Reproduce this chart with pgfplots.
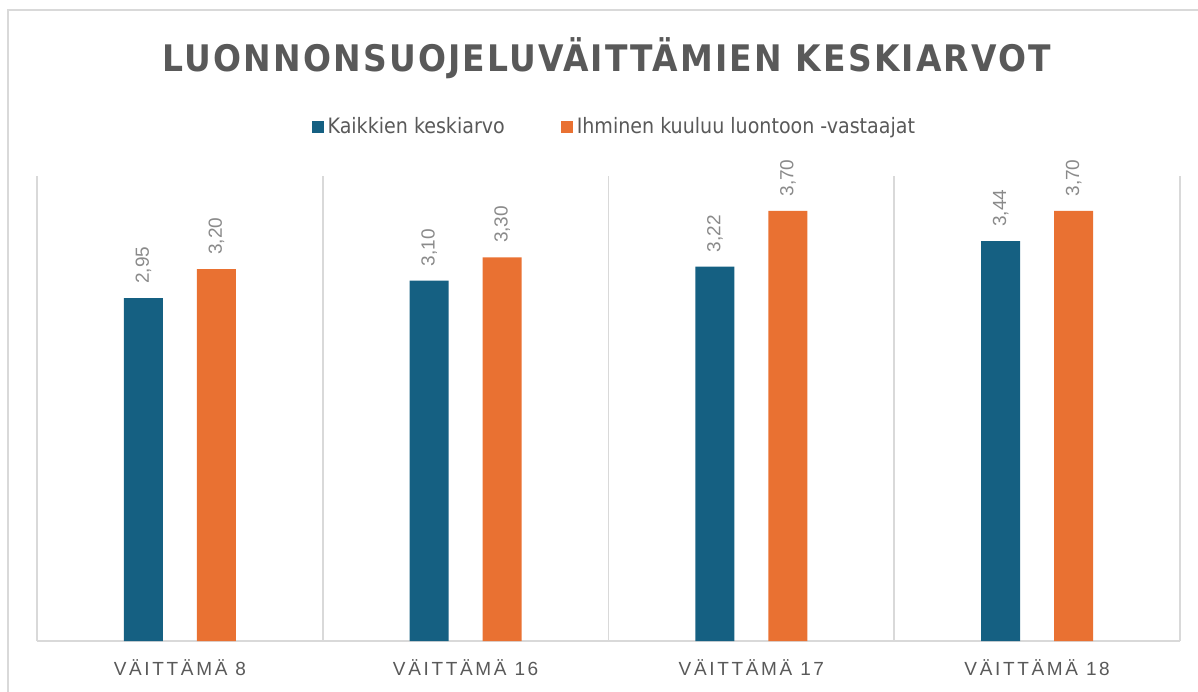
\documentclass[border=0pt]{standalone}
\usepackage{fontspec}
\setmainfont{Liberation Sans}
\newfontfamily\titlefont[LetterSpace=6]{DejaVu Sans Condensed}
\newfontfamily\condfont{DejaVu Sans Condensed}
\newfontfamily\tickfont[LetterSpace=14]{Liberation Sans}
\usepackage{pgfplots}
\pgfplotsset{compat=1.18}
\definecolor{blueA}{HTML}{156082}
\definecolor{orangeA}{HTML}{E97132}
\definecolor{gridgray}{HTML}{D9D9D9}
\definecolor{textgray}{HTML}{595959}
\definecolor{labelgray}{HTML}{8A8A8A}
\begin{document}
\begin{tikzpicture}
\useasboundingbox (0,0) rectangle (599pt,-345.5pt);
\draw[gridgray, line width=1.2pt] (4pt,-346pt) -- (4pt,-5pt) -- (600pt,-5pt);
\node[text=textgray, font=\titlefont\bfseries\fontsize{18.3}{22}\selectfont] at (303.5pt,-29pt) {LUONNONSUOJELUVÄITTÄMIEN KESKIARVOT};
\begin{axis}[
  at={(18.5pt,-320.5pt)}, anchor=south west,
  scale only axis, width=571.5pt, height=232.5pt,
  xmin=-0.5, xmax=3.5, ymin=0, ymax=4,
  ybar=17pt, bar width=19.5pt,
  xtick={0,1,2,3},
  xticklabels={VÄITTÄMÄ 8, VÄITTÄMÄ 16, VÄITTÄMÄ 17, VÄITTÄMÄ 18},
  xticklabel style={font=\tickfont\fontsize{9.5}{11}\selectfont, text=textgray, yshift=-6pt},
  minor xtick={-0.5,0.5,1.5,2.5,3.5},
  xminorgrids,
  minor grid style={gridgray, line width=0.9pt},
  major tick length=0pt, minor tick length=0pt,
  ytick=\empty,
  axis x line*=bottom, axis y line=none,
  axis line style={gridgray, line width=0.9pt, -},
  nodes near coords={\pgfmathprintnumber[fixed,fixed zerofill,precision=2,use comma,assume math mode=true]{\pgfplotspointmeta}},
  point meta=y,
  nodes near coords style={rotate=90, anchor=west, inner xsep=7pt, inner ysep=0pt, text=labelgray, font=\fontsize{9.5}{11}\selectfont},
  legend style={at={(0.506,1.105)}, anchor=center, legend columns=2, draw=none, fill=none,
    font=\condfont\fontsize{10.6}{12}\selectfont, text=textgray,
    /tikz/every even column/.append style={column sep=26pt}},
  legend image code/.code={\fill[#1] (0pt,-3pt) rectangle (6pt,3pt);},
]
\addplot[fill=blueA, draw=none] coordinates {(0,2.95) (1,3.10) (2,3.22) (3,3.44)};
\addplot[fill=orangeA, draw=none] coordinates {(0,3.20) (1,3.30) (2,3.70) (3,3.70)};
\legend{Kaikkien keskiarvo, Ihminen kuuluu luontoon -vastaajat}
\end{axis}
\end{tikzpicture}
\end{document}
